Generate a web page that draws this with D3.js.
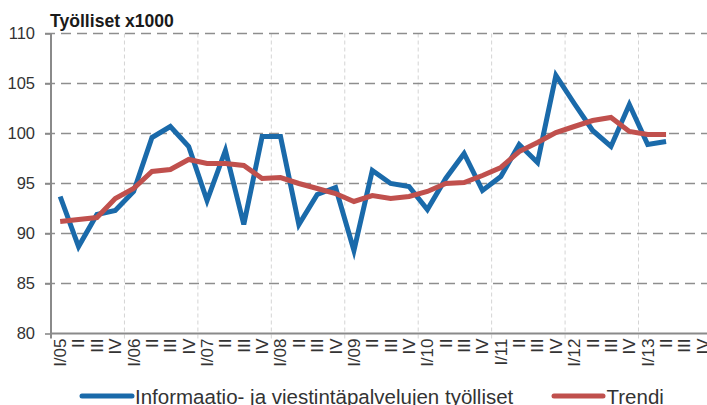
<!DOCTYPE html>
<html><head><meta charset="utf-8">
<script src="https://cdn.jsdelivr.net/npm/d3@7"></script>
<style>body{margin:0;background:#fff}svg{display:block}</style>
</head><body>
<svg id="c" width="707" height="405"></svg>
<script>
const categories = ["I/05","II/05","III/05","IV/05","I/06","II/06","III/06","IV/06","I/07","II/07","III/07","IV/07","I/08","II/08","III/08","IV/08","I/09","II/09","III/09","IV/09","I/10","II/10","III/10","IV/10","I/11","II/11","III/11","IV/11","I/12","II/12","III/12","IV/12","I/13","II/13","III/13","IV/13"];
const tickLabels = ["I/05","II","III","IV","I/06","II","III","IV","I/07","II","III","IV","I/08","II","III","IV","I/09","II","III","IV","I/10","II","III","IV","I/11","II","III","IV","I/12","II","III","IV","I/13","II","III","IV"];
const employed = [93.7,88.7,91.9,92.3,94.2,99.6,100.7,98.7,93.3,98.3,90.9,99.7,99.7,90.9,93.9,94.6,88.3,96.3,95.0,94.7,92.4,95.5,98.0,94.3,95.7,98.9,97.1,105.8,103.0,100.3,98.7,102.9,98.9,99.2];
const trend = [91.2,91.4,91.6,93.5,94.5,96.2,96.4,97.4,97.0,97.0,96.8,95.5,95.6,95.0,94.5,94.0,93.2,93.8,93.5,93.7,94.2,95.0,95.1,95.8,96.6,98.2,99.1,100.1,100.7,101.3,101.6,100.2,99.9,99.9];
const yTicks = [80,85,90,95,100,105,110];
const seriesNames = ["Informaatio- ja viestintäpalvelujen työlliset","Trendi"];
const title = "Työlliset x1000";

(function(){
const colors = ["#1a6aaa","#c0504d"];
const font = "'Liberation Sans', Arial, sans-serif";
const svg = d3.select("#c");
const left = 51, topY = 33.5, bottom = 333.5, step = 18.36;
const x = d3.scaleBand().domain(categories).range([left, left + categories.length * step]).padding(0);
const y = d3.scaleLinear().domain([80,110]).range([bottom, topY]);
const cx = c => x(c) + x.bandwidth()/2;

// vertical year gridlines
const yearStarts = categories.filter((c,i) => i % 4 === 0 && i > 0);
svg.append("g").selectAll("line").data(yearStarts).join("line")
  .attr("x1", d => x(d)).attr("x2", d => x(d))
  .attr("y1", topY).attr("y2", bottom + 5)
  .attr("stroke", "#d4d4d4").attr("stroke-width", 1).attr("stroke-dasharray", "4,3");

// horizontal gridlines
svg.append("g").selectAll("line").data(yTicks.filter(t => t > 80)).join("line")
  .attr("x1", left - 6).attr("x2", 707)
  .attr("y1", d => y(d)).attr("y2", d => y(d))
  .attr("stroke", "#8e8e8e").attr("stroke-width", 1.6).attr("stroke-dasharray", "10,6");

// y axis
const yAxis = svg.append("g").attr("transform", `translate(${left},0)`)
  .call(d3.axisLeft(y).tickValues(yTicks).tickSize(6).tickPadding(10));
yAxis.select(".domain").remove();
yAxis.selectAll(".tick line").attr("stroke", "#8a8a8a").attr("stroke-width", 1.6);
yAxis.selectAll("text").attr("font-family", font).attr("font-size", 16.5).attr("fill", "#333");
svg.append("line").attr("x1", left).attr("x2", left).attr("y1", topY).attr("y2", bottom + 5)
  .attr("stroke", "#8a8a8a").attr("stroke-width", 2);

// x axis
const xAxis = svg.append("g").attr("transform", `translate(0,${bottom})`)
  .call(d3.axisBottom(x).tickSize(0).tickFormat((d,i) => tickLabels[i]));
xAxis.select(".domain").remove();
xAxis.selectAll(".tick text")
  .attr("font-family", font).attr("font-size", 17).attr("fill", "#333")
  .attr("text-anchor", "end").attr("transform", "translate(0,5) rotate(-90)")
  .attr("x", 0).attr("y", 0).attr("dy", "0.35em");
svg.append("line").attr("x1", left - 1).attr("x2", 707).attr("y1", bottom).attr("y2", bottom)
  .attr("stroke", "#8a8a8a").attr("stroke-width", 2);

// lines
const line = d3.line().x((d,i) => cx(categories[i])).y(d => y(d));
[employed, trend].forEach((s, k) => {
  svg.append("path").datum(s).attr("d", line)
    .attr("fill", "none").attr("stroke", colors[k]).attr("stroke-width", 5)
    .attr("stroke-linejoin", "miter").attr("stroke-miterlimit", 4);
});

// title
svg.append("text").attr("x", 50).attr("y", 27).text(title)
  .attr("font-family", font).attr("font-weight", "bold").attr("font-size", 17.6).attr("fill", "#1a1a1a");

// legend
const legend = [{x1:82,x2:132,tx:135},{x1:554,x2:603,tx:606.5}];
legend.forEach((l,k) => {
  svg.append("line").attr("x1", l.x1).attr("x2", l.x2).attr("y1", 396).attr("y2", 396)
    .attr("stroke", colors[k]).attr("stroke-width", 5).attr("stroke-linecap", "round");
  svg.append("text").attr("x", l.tx).attr("y", 404).text(seriesNames[k])
    .attr("font-family", font).attr("font-size", 20.5).attr("fill", "#333");
});
})();
</script>
</body></html>
